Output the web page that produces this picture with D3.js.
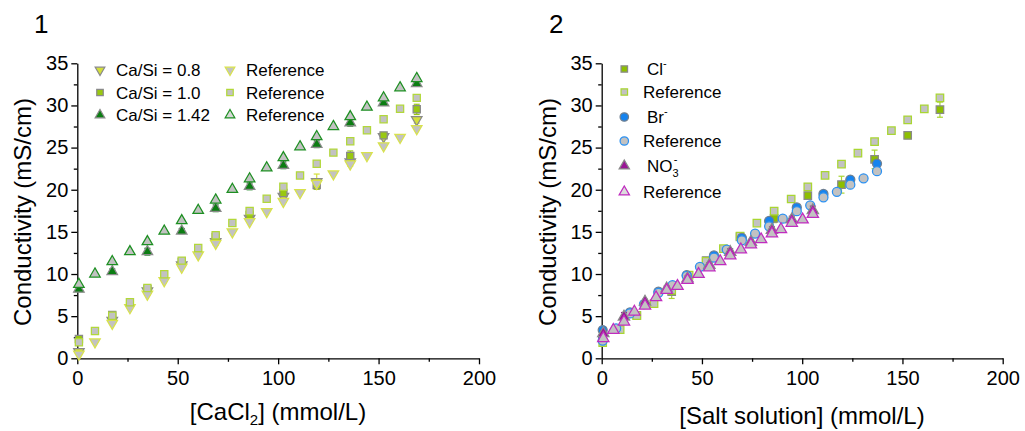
<!DOCTYPE html>
<html><head><meta charset="utf-8">
<script src="https://cdn.jsdelivr.net/npm/d3@7"></script>
<style>body{margin:0;background:#fff}svg text{font-family:'Liberation Sans',Arial,Helvetica,sans-serif}</style>
</head><body><svg id="c" width="1025" height="431"></svg>
<script>
// ---------- Panel 1 data ----------
const p1RefX = [0.8, 8.8, 17.4, 26.2, 34.9, 43.3, 52, 60.2, 68.9, 77.2, 85.8, 94.3, 102.6, 110.9, 119.2, 127.5, 135.9, 144.2, 152.5, 160.7, 169];
const p1MeasX = [0.8, 17.4, 34.9, 52, 68.9, 85.8, 102.6, 119.2, 135.9, 152.5, 169];
const ref08 = [0.5, 1.94, 4.15, 6.0, 7.6, 9.2, 10.8, 12.26, 13.64, 15.0, 16.2, 17.4, 18.6, 19.65, 20.76, 21.87, 23.05, 24.04, 25.2, 26.2, 27.24];
const ref10 = [1.9, 3.24, 5.06, 6.64, 8.34, 9.96, 11.59, 13.09, 14.59, 16.05, 17.48, 18.94, 20.36, 21.7, 23.09, 24.4, 25.74, 27.05, 28.35, 29.6, 30.9];
const ref142 = [8.78, 10.0, 11.47, 12.65, 13.84, 15.1, 16.33, 17.56, 18.78, 20.05, 21.3, 22.6, 23.8, 25.1, 26.3, 27.5, 28.67, 29.8, 30.9, 32.1, 33.2];
const meas08 = [0.8, 4.5, 8.0, 11.07, 13.84, 16.6, 19.2, 20.96, 23.3, 26.3, 28.3];
const err08 = [0.2, 0.3, 0.5, 0.3, 0.4, 0.4, 0.4, 0.9, 0.5, 0.3, 0.4];
const meas10 = [2.3, 5.14, 8.2, 11.43, 14.4, 17.0, 19.6, 20.56, 24.0, 26.45, 29.54];
const err10 = [0.3, 0.4, 0.3, 0.3, 0.3, 0.3, 0.4, 0.5, 0.6, 0.3, 0.6];
const meas142 = [8.2, 10.3, 12.65, 15.1, 17.8, 20.4, 22.9, 25.4, 27.95, 30.3, 32.6];
const err142 = [0.2, 0.3, 0.4, 0.3, 0.4, 0.4, 0.4, 0.4, 0.4, 0.3, 0.3];

// ---------- Panel 2 data ----------
const clRefX = [0.5, 9.2, 17.5, 26.1, 34.9, 43.6, 52.1, 60.7, 69, 77.4, 86, 94.5, 102.8, 111.4, 119.6, 127.8, 136.1, 144.5, 152.6, 160.9, 168.7];
const clRef = [1.85, 3.4, 5.05, 6.5, 8.1, 9.86, 11.5, 13.0, 14.5, 16.05, 17.45, 18.9, 20.35, 21.7, 23.05, 24.35, 25.7, 27.0, 28.3, 29.6, 30.9];
const clMeasX = [0.5, 17.5, 34.9, 52.1, 69, 86, 102.8, 119.6, 136.1, 152.6, 168.7];
const clMeas = [2.3, 5.1, 7.9, 11.6, 14.4, 16.6, 19.3, 20.6, 23.6, 26.45, 29.5];
const clErr = [0.3, 0.4, 0.8, 0.3, 0.3, 0.5, 0.4, 1.0, 1.1, 0.4, 0.9];
const brRefX = [0.5, 7.2, 14.1, 21.1, 28.3, 35.3, 42.4, 49, 56, 62.4, 69.9, 76.5, 83.5, 90.3, 97.3, 104, 110.6, 117.3, 124, 130.6, 137.3];
const brRef = [2.1, 3.55, 5.33, 6.43, 7.77, 8.68, 9.78, 10.85, 11.95, 12.9, 14.0, 14.8, 15.66, 16.57, 17.45, 18.15, 19.1, 19.75, 20.6, 21.35, 22.2];
const brMeasX = [0.5, 14.1, 28.3, 42.4, 56, 69.9, 83.5, 97.3, 110.6, 124, 137.3];
const brMeas = [3.35, 5.44, 7.9, 9.86, 12.2, 14.3, 16.3, 17.9, 19.5, 21.2, 23.1];
const brErr = [0.2, 0.2, 0.2, 0.3, 0.3, 0.3, 0.3, 0.3, 0.3, 0.3, 0.3];
const no3RefX = [0.8, 5.8, 11.1, 16.3, 21.6, 27.1, 32.4, 37.8, 42.8, 48.3, 53.7, 59.1, 64.1, 69.4, 74.4, 79.5, 84.9, 89.4, 94.8, 100.2, 105.3];
const no3Ref = [2.37, 3.35, 4.34, 5.52, 6.23, 7.22, 8.08, 8.56, 9.27, 9.98, 10.77, 11.5, 12.2, 12.9, 13.5, 14.1, 14.8, 15.3, 16.05, 16.45, 17.1];
const no3MeasX = [0.8, 11.1, 21.6, 32.4, 42.8, 53.7, 64.1, 74.4, 84.9, 94.8, 105.3];
const no3Meas = [2.96, 4.93, 6.7, 8.28, 9.47, 11.05, 12.6, 13.8, 15.2, 16.45, 17.55];
const no3Err = [0.3, 0.5, 0.3, 0.3, 0.3, 0.3, 0.4, 0.3, 0.4, 0.4, 0.5];

// ---------- Ticks / labels ----------
const xTicks = [0, 50, 100, 150, 200];
const xMinor = [25, 75, 125, 175];
const yTicks = [0, 5, 10, 15, 20, 25, 30, 35];
const yMinor = [2.5, 7.5, 12.5, 17.5, 22.5, 27.5, 32.5];
const yTitle = "Conductivity (mS/cm)";
const legend1 = ["Ca/Si = 0.8", "Ca/Si = 1.0", "Ca/Si = 1.42", "Reference"];

const svg = d3.select('#c');
const FONT = "'Liberation Sans', Arial, Helvetica, sans-serif";
const GREY = '#c2c2c2', MGREY = '#8a8a8a';

function makePanel(x0, x1, y0, y1) {
  const x = d3.scaleLinear().domain([0, 200]).range([x0, x1]);
  const y = d3.scaleLinear().domain([0, 35]).range([y0, y1]);
  const g = svg.append('g');
  const style = sel => { sel.selectAll('path,line').attr('stroke', '#000').attr('stroke-width', 1.3);
    sel.attr('font-family', FONT).attr('font-size', 20); sel.selectAll('text').attr('fill', '#000'); };
  g.append('g').attr('transform', `translate(0,${y0})`)
    .call(d3.axisBottom(x).tickValues(xMinor).tickSize(3.5).tickFormat(() => '').tickSizeOuter(0))
    .call(style).select('.domain').remove();
  g.append('g').attr('transform', `translate(${x0},0)`)
    .call(d3.axisLeft(y).tickValues(yMinor).tickSize(3.5).tickFormat(() => '').tickSizeOuter(0))
    .call(style).select('.domain').remove();
  g.append('g').attr('transform', `translate(0,${y0})`)
    .call(d3.axisBottom(x).tickValues(xTicks).tickSize(6).tickPadding(7).tickSizeOuter(0)).call(style);
  g.append('g').attr('transform', `translate(${x0},0)`)
    .call(d3.axisLeft(y).tickValues(yTicks).tickSize(6).tickPadding(3).tickSizeOuter(0)).call(style);
  return { x, y, g };
}

function symPath(shape, size) {
  const t = shape === 'square' ? d3.symbolSquare : shape === 'circle' ? d3.symbolCircle : d3.symbolTriangle;
  return d3.symbol().type(t).size(size)();
}
function marker(g, cx, cy, shape, size, fill, stroke) {
  g.append('path').attr('d', symPath(shape, size))
    .attr('transform', `translate(${cx},${cy})` + (shape === 'down' ? ' rotate(180)' : ''))
    .attr('fill', fill).attr('stroke', stroke).attr('stroke-width', 1.25);
}
function series(p, xs, ys, shape, size, fill, stroke, errs, errColor) {
  const g = p.g.append('g');
  if (errs) {
    xs.forEach((xv, i) => {
      const cx = p.x(xv), ya = p.y(ys[i] - errs[i]), yb = p.y(ys[i] + errs[i]);
      g.append('line').attr('x1', cx).attr('x2', cx).attr('y1', ya).attr('y2', yb).attr('stroke', errColor).attr('stroke-width', 1.2);
      [ya, yb].forEach(yy => g.append('line').attr('x1', cx - 3).attr('x2', cx + 3).attr('y1', yy).attr('y2', yy).attr('stroke', errColor).attr('stroke-width', 1.2));
    });
  }
  xs.forEach((xv, i) => marker(g, p.x(xv), p.y(ys[i]), shape, size, fill, stroke));
}
function text(x, y, s, size, anchor) {
  return svg.append('text').attr('x', x).attr('y', y).attr('font-size', size).attr('font-family', FONT)
    .attr('text-anchor', anchor || 'start').attr('fill', '#000').text(s);
}

// ---------- Colours ----------
const C08 = '#d3df3a', C08R = '#d8e24c';
const C10 = '#99c810', C10R = '#b2d83a';
const C142 = '#0b7d12', C142R = '#1d8f22';
const CCL = '#8dbf00', CCLR = '#a9d632';
const CBR = '#1683ee', CBRR = '#2b91f2';
const CNO = '#9a1796', CNOR = '#c02cbf';

// ---------- Panel 1 ----------
const p1 = makePanel(77.3, 479, 358.3, 63.3);
series(p1, p1MeasX, meas08, 'down', 48, C08, MGREY, err08, C08);
series(p1, p1MeasX, meas10, 'square', 52, C10, MGREY, err10, C10);
series(p1, p1MeasX, meas142, 'up', 48, C142, MGREY, err142, C142);
series(p1, p1RefX, ref08, 'down', 48, GREY, C08R);
series(p1, p1RefX, ref10, 'square', 52, GREY, C10R);
series(p1, p1RefX, ref142, 'up', 48, GREY, C142R);

const l1 = svg.append('g');
const rows1 = [70, 92.5, 115];
marker(l1, 100, rows1[0], 'down', 40, C08, MGREY);
marker(l1, 100, rows1[1], 'square', 42, C10, MGREY);
marker(l1, 100, rows1[2], 'up', 40, C142, MGREY);
marker(l1, 230, rows1[0], 'down', 40, GREY, C08R);
marker(l1, 230, rows1[1], 'square', 42, GREY, C10R);
marker(l1, 230, rows1[2], 'up', 40, '#d8d8d8', C142R);
rows1.forEach((ry, i) => { text(116, ry + 6, legend1[i], 17); text(246, ry + 6, legend1[3], 17); });

text(34, 33, '1', 26);
const xt1 = text(278, 420, '[CaCl', 24, 'middle');
xt1.append('tspan').attr('font-size', 15).attr('dy', 5).text('2');
xt1.append('tspan').attr('dy', -5).text('] (mmol/L)');
text(0, 0, yTitle, 24, 'middle').attr('transform', 'translate(31,212) rotate(-90)');

// ---------- Panel 2 ----------
const p2 = makePanel(601.7, 1002.7, 358.3, 63.3);
series(p2, clMeasX, clMeas, 'square', 56, CCL, MGREY, clErr, CCLR);
series(p2, clRefX, clRef, 'square', 56, GREY, CCLR);
series(p2, brMeasX, brMeas, 'circle', 64, CBR, '#6f7f90', brErr, CBR);
series(p2, brRefX, brRef, 'circle', 64, GREY, CBRR);
series(p2, no3MeasX, no3Meas, 'up', 56, CNO, MGREY, no3Err, CNO);
series(p2, no3RefX, no3Ref, 'up', 56, GREY, CNOR);

const l2 = svg.append('g');
const rows2 = [69, 92, 117, 141, 166, 192];
marker(l2, 624.3, rows2[0], 'square', 42, CCL, MGREY);
marker(l2, 624.3, rows2[1], 'square', 42, GREY, CCLR);
marker(l2, 624.3, rows2[2], 'circle', 56, CBR, '#6f7f90');
marker(l2, 624.3, rows2[3], 'circle', 56, GREY, CBRR);
marker(l2, 624.3, rows2[4], 'up', 46, CNO, MGREY);
marker(l2, 624.3, rows2[5], 'up', 46, '#dcdcdc', CNOR);
const t1 = text(647, rows2[0] + 6, 'Cl', 17); t1.append('tspan').attr('font-size', 11).attr('dy', -8).text('-');
text(643, rows2[1] + 6, 'Reference', 17);
const t2 = text(647, rows2[2] + 6, 'Br', 17); t2.append('tspan').attr('font-size', 11).attr('dy', -8).text('-');
text(643, rows2[3] + 6, 'Reference', 17);
const t3 = text(647, rows2[4] + 6, 'NO', 17);
t3.append('tspan').attr('font-size', 11).attr('dy', 5).text('3');
t3.append('tspan').attr('font-size', 11).attr('dx', -5).attr('dy', -14).text('-');
text(643, rows2[5] + 6, 'Reference', 17);

text(549, 33, '2', 26);
text(802, 424, '[Salt solution] (mmol/L)', 24, 'middle');
text(0, 0, yTitle, 24, 'middle').attr('transform', 'translate(555.7,212) rotate(-90)');
</script></body></html>
